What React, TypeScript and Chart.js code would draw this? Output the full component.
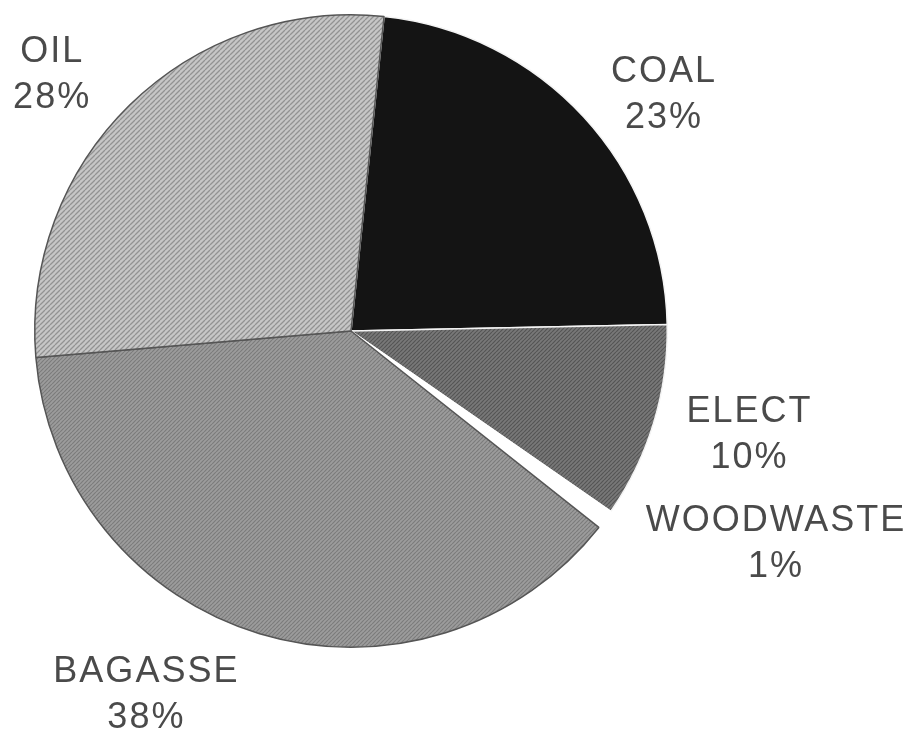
import React, { useEffect, useRef } from "react";
import { Chart, registerables } from "chart.js";

Chart.register(...registerables);

const categories = ["COAL", "ELECT", "WOODWASTE", "BAGASSE", "OIL"];
const shares = [23, 10, 1, 38, 28];
const shareLabels = ["23%", "10%", "1%", "38%", "28%"];

// label anchors relative to pie centre, in units of the radius
const labelOffsets: [number, number][] = [
  [0.99, -0.745],
  [1.26, 0.33],
  [1.344, 0.675],
  [-0.647, 1.15],
  [-0.945, -0.81],
];

function makePattern(base: string, line: string, step: number, width: number, dir: number) {
  const c = document.createElement("canvas");
  c.width = step;
  c.height = step;
  const g = c.getContext("2d")!;
  g.fillStyle = base;
  g.fillRect(0, 0, step, step);
  g.strokeStyle = line;
  g.lineWidth = width;
  g.beginPath();
  for (let k = -1; k <= 1; k++) {
    if (dir > 0) {
      g.moveTo(k * step, step);
      g.lineTo(k * step + step, 0);
    } else {
      g.moveTo(k * step, 0);
      g.lineTo(k * step + step, step);
    }
  }
  g.stroke();
  return g.createPattern(c, "repeat")!;
}

export default function App() {
  const ref = useRef<HTMLCanvasElement>(null);
  useEffect(() => {
    const canvas = ref.current!;
    const fills = [
      "#141414",
      makePattern("#787878", "#555555", 4, 1.2, 1),
      "#ffffff",
      makePattern("#9c9c9c", "#7c7c7c", 4, 1.2, 1),
      makePattern("#c6c6c6", "#929292", 5, 1.3, 1),
    ];
    const labelPlugin = {
      id: "outerLabels",
      afterDraw(chart: any) {
        const meta = chart.getDatasetMeta(0);
        const arc = meta.data[0];
        const cx = arc.x;
        const cy = arc.y;
        const r = arc.outerRadius;
        const ctx = chart.ctx;
        ctx.save();
        ctx.fillStyle = "#4a4a4a";
        ctx.font = "36px 'Liberation Sans', Arial, sans-serif";
        ctx.textAlign = "center";
        ctx.textBaseline = "middle";
        try {
          (ctx as any).letterSpacing = "2px";
        } catch (e) {}
        categories.forEach((name, i) => {
          const [dx, dy] = labelOffsets[i];
          const x = cx + dx * r;
          const y = cy + dy * r;
          ctx.fillText(name, x, y - 23);
          ctx.fillText(shareLabels[i], x, y + 23);
        });
        ctx.restore();
      },
    };
    const chart = new Chart(canvas, {
      type: "pie",
      data: {
        labels: categories,
        datasets: [
          {
            data: shares,
            backgroundColor: fills as any,
            borderColor: ["#f4f4f4", "#f4f4f4", "#ffffff", "#555555", "#555555"],
            borderWidth: 1.5,
          },
        ],
      },
      options: {
        animation: false,
        responsive: false,
        rotation: 6,
        layout: { padding: { left: 34, right: 252, top: 14, bottom: 96 } },
        plugins: { legend: { display: false }, tooltip: { enabled: false } },
      },
      plugins: [labelPlugin],
    });
    return () => chart.destroy();
  }, []);
  return (
    <div style={{ position: "absolute", left: 0, top: 0, width: 920, height: 744, background: "#fff" }}>
      <canvas ref={ref} width={920} height={744} style={{ width: 920, height: 744 }} />
    </div>
  );
}
